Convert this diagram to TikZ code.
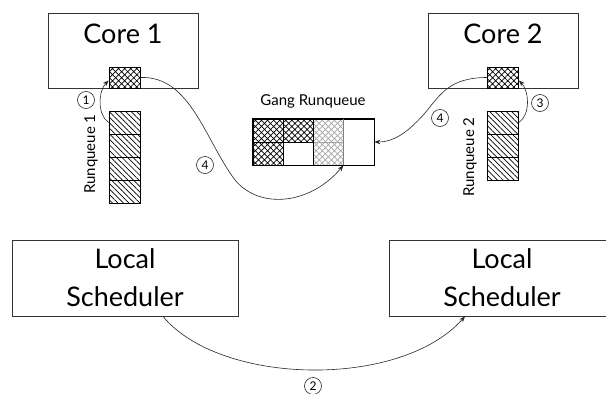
\documentclass[tikz,border=0pt]{standalone}
\usepackage{fontspec}
\setmainfont{Lato}
\usetikzlibrary{patterns.meta,arrows.meta}
\begin{document}
\begin{tikzpicture}[x=1pt,y=-1pt,
  bigbox/.style={draw=black!80, line width=0.8pt, inner sep=0pt, minimum width=150pt, minimum height=75pt},
  lsbox/.style={draw=black!80, line width=0.8pt, inner sep=0pt, minimum width=226pt, minimum height=76pt,
     align=center, font=\fontsize{27}{38}\selectfont},
  bigtext/.style={font=\fontsize{27}{30}\selectfont, anchor=base, inner sep=0pt},
  smalltext/.style={font=\fontsize{15}{18}\selectfont, inner sep=0pt},
  xcell/.style={draw=black, line width=0.8pt, inner sep=0pt, minimum width=31pt, minimum height=21pt,
     pattern={Hatch[angle=45,distance=4.3pt,line width=0.7pt]}},
  qcell/.style={draw=black, line width=0.8pt, inner sep=0pt, minimum width=31pt, minimum height=23pt,
     pattern={Lines[angle=-45,distance=3.9pt,line width=0.7pt]}},
  gcell/.style={draw=black, line width=0.8pt, inner sep=0pt, minimum width=30pt, minimum height=23pt},
  hatchblack/.style={pattern={Hatch[angle=45,distance=4.3pt,line width=0.7pt]}},
  hatchgray/.style={pattern={Hatch[angle=45,distance=4.3pt,line width=0.7pt]}, pattern color=black!35, draw=black!35},
  num/.style={circle, draw=black!85, line width=0.6pt, inner sep=0pt, minimum size=17pt, font=\fontsize{12}{12}\selectfont},
  conn/.style={draw=black!85, line width=0.6pt, -{Stealth[length=6pt,width=4.5pt]}}
]
\useasboundingbox (0,0) rectangle (606,394);

% Cores
\node[bigbox] (core1) at (123,50.5) {};
\node[bigtext] (core1t) at (123,43) {Core 1};
\node[bigbox] (core2) at (503,50.5) {};
\node[bigtext] (core2t) at (503,43) {Core 2};

% running task boxes
\node[xcell] (c1q) at (124.5,77.5) {};
\node[xcell] (c2q) at (503,77.5) {};

% Runqueue 1
\node[qcell] (rq1a) at (124.5,122.5) {};
\node[qcell] (rq1b) at (124.5,145.5) {};
\node[qcell] (rq1c) at (124.5,168.5) {};
\node[qcell] (rq1d) at (124.5,191.5) {};
\node[smalltext, rotate=90] (rq1t) at (91,154) {Runqueue 1};

% Runqueue 2
\node[qcell] (rq2a) at (503,122.5) {};
\node[qcell] (rq2b) at (503,145.5) {};
\node[qcell] (rq2c) at (503,168.5) {};
\node[smalltext, rotate=90] (rq2t) at (470,157) {Runqueue 2};

% Gang runqueue
\node[smalltext] (gangt) at (313,101) {Gang Runqueue};
\node[gcell, hatchblack] (g11) at (268,130.5) {};
\node[gcell, hatchblack] (g12) at (298,130.5) {};
\node[gcell, hatchblack] (g21) at (268,153.5) {};
\node[gcell] (g22) at (298,153.5) {};
\node[gcell, hatchgray] (g13) at (328,130.5) {};
\node[gcell, hatchgray] (g23) at (328,153.5) {};
\node[gcell, draw=none, minimum width=31pt, minimum height=46pt] (g4) at (358.5,142) {};
\draw[line width=1.8pt] (g11.north west) rectangle (g4.south east);
\draw[line width=1.8pt] (g12.north east) -- (g22.south east);
\draw[line width=0.8pt, black!50] (g13.north east) -- (g23.south east);

% Local schedulers
\node[lsbox] (ls1) at (125,278) {Local\\Scheduler};
\node[lsbox] (ls2) at (502,278) {Local\\Scheduler};

% step numbers
\node[num] (n1) at (86,100) {1};
\node[num] (n2) at (313,386) {2};
\node[num] (n3) at (540,103) {3};
\node[num] (n4a) at (205,165) {4};
\node[num] (n4b) at (440,118) {4};

% connectors
\coordinate (m4l) at (235,180);
\coordinate (m4r) at (425,113);
\draw[conn] (rq1a.west) .. controls +(-12,-8) and +(-10,10) .. ([yshift=-3pt]c1q.west);
\draw[conn] (rq2a.east) .. controls +(12,-8) and +(10,10) .. ([yshift=-3pt]c2q.east);
\draw[conn] (c1q.east) .. controls +(50,-2) and +(-30,-40) .. (m4l)
   .. controls +(25,30) and +(-33,39) .. (g23.south east);
\draw[conn] (c2q.west) .. controls +(-38,0) and +(15,-18) .. (m4r)
   .. controls +(-15,17) and +(21,0) .. (g4.east);
\draw[conn] ([xshift=38pt]ls1.south) .. controls +(57,69) and +(-65,73) .. ([xshift=-37pt]ls2.south);
\end{tikzpicture}
\end{document}
